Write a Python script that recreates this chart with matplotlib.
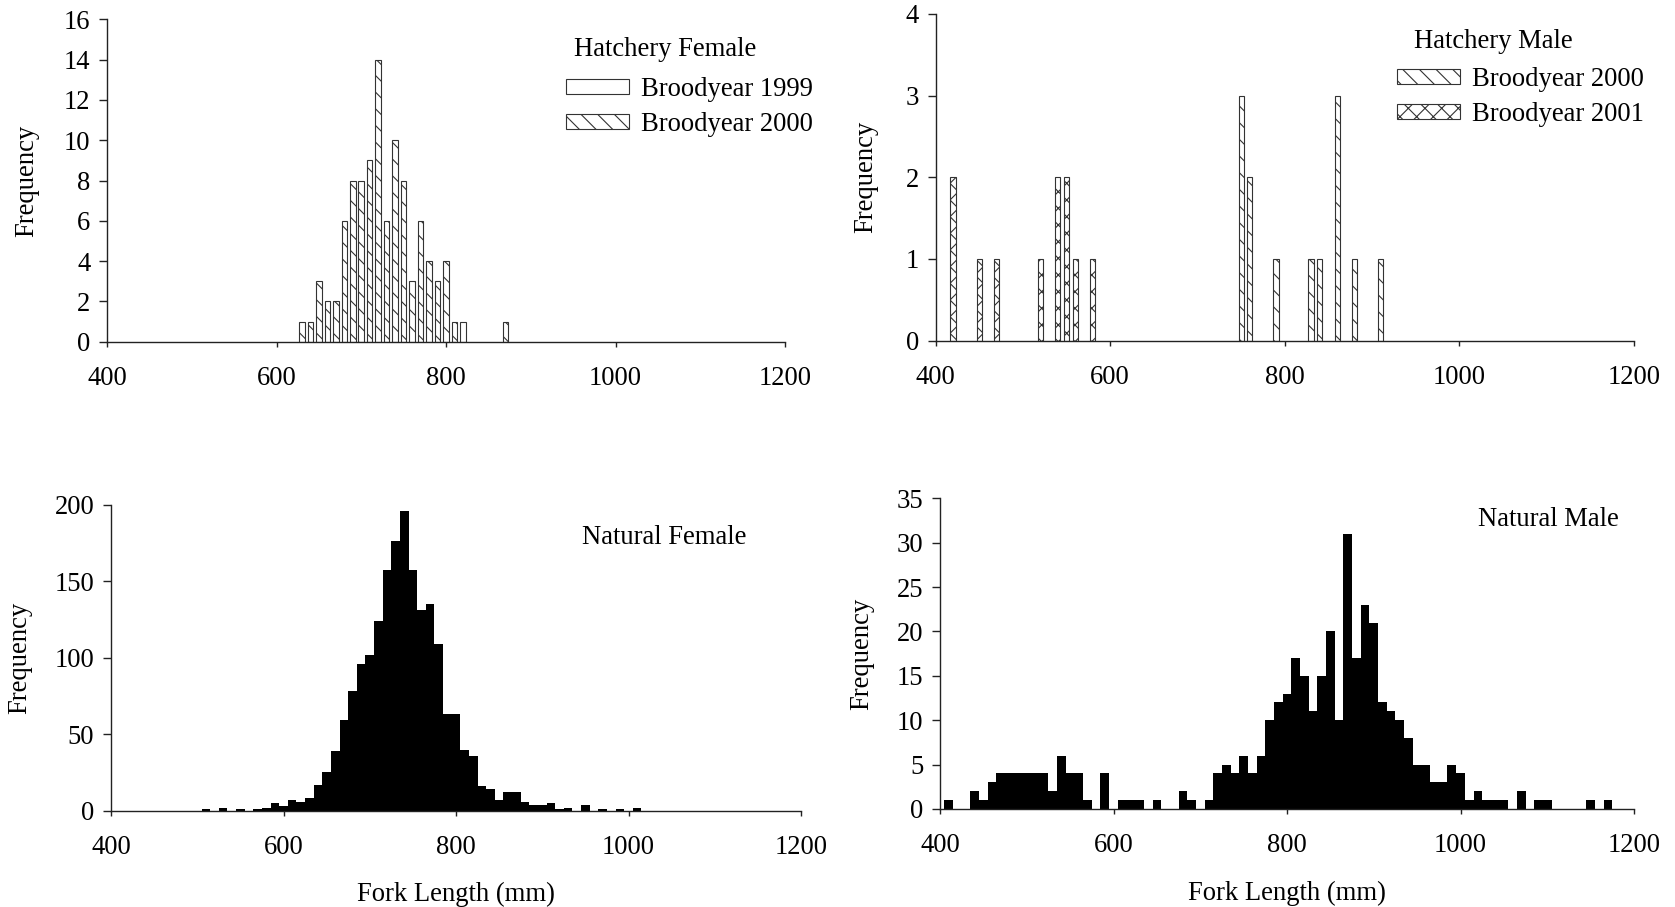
import numpy as np
import matplotlib
matplotlib.use("Agg")
import matplotlib.pyplot as plt
from matplotlib.patches import Patch

plt.rcParams['font.family'] = ['Liberation Serif', 'DejaVu Serif']
plt.rcParams['hatch.linewidth'] = 0.8

# Hatchery female, 10 mm classes
hf_1999_len = [820]
hf_1999_cnt = [1]
hf_2000_len = [630, 640, 650, 660, 670, 680, 690, 700, 710, 720, 730, 740,
               750, 760, 770, 780, 790, 800, 810, 870]
hf_2000_cnt = [1, 1, 3, 2, 2, 6, 8, 8, 9, 14, 6, 10, 8, 3, 6, 4, 3, 4, 1, 1]

# Hatchery male
hm_2000_len = [750, 760, 790, 830, 840, 860, 880, 910]
hm_2000_cnt = [3, 2, 1, 1, 1, 3, 1, 1]
hm_2001_len = [420, 450, 470, 520, 540, 550, 560, 580]
hm_2001_cnt = [2, 1, 1, 1, 2, 2, 1, 1]

# Natural female (510 .. 1010 mm)
nf_len = np.arange(510, 1020, 10)
nf_cnt = [1, 0, 2, 0, 1, 0, 1, 2, 5, 3, 7, 6, 8, 17, 25, 39, 59, 78, 96, 102,
          124, 157, 176, 196, 157, 131, 135, 109, 63, 63, 40, 36, 16, 14, 7,
          12, 12, 6, 4, 4, 5, 1, 2, 0, 4, 0, 1, 0, 1, 0, 2]

# Natural male (410 .. 1170 mm)
nm_len = np.arange(410, 1180, 10)
nm_cnt = [1, 0, 0, 2, 1, 3, 4, 4, 4, 4, 4, 4, 2, 6, 4, 4, 1, 0, 4, 0,
          1, 1, 1, 0, 1, 0, 0, 2, 1, 0, 1, 4, 5, 4, 6, 4, 6, 10, 12, 13,
          17, 15, 11, 15, 20, 10, 31, 17, 23, 21, 12, 11, 10, 8, 5, 5, 3, 3, 5, 4,
          1, 2, 1, 1, 1, 0, 2, 0, 1, 1, 0, 0, 0, 0, 1, 0, 1]

x_ticks = [400, 600, 800, 1000, 1200]
FS = 19.2
W, H = 1675, 907

fig = plt.figure(figsize=(16.75, 9.07), dpi=100)


def rect(l, r, b, t):
    return [l / W, 1 - b / H, (r - l) / W, (b - t) / H]


def style(ax, ymax, ystep):
    ax.set_xlim(400, 1200)
    ax.set_ylim(0, ymax)
    ax.set_xticks(x_ticks)
    ax.set_yticks(np.arange(0, ymax + ystep, ystep))
    for s in ['top', 'right']:
        ax.spines[s].set_visible(False)
    for s in ['left', 'bottom']:
        ax.spines[s].set_linewidth(1.0)
        ax.spines[s].set_color('#222222')
    ax.tick_params(axis='x', direction='out', length=3.5, width=1, pad=14,
                   labelsize=FS, color='#222222')
    ax.tick_params(axis='y', direction='out', length=5.5, width=1, pad=6.5,
                   labelsize=FS, color='#222222')
    ax.set_ylabel('Frequency', fontsize=FS)


ax1 = fig.add_axes(rect(107, 785, 341.7, 19.3))
ax1.bar(hf_1999_len, hf_1999_cnt, width=6.5, color='white', edgecolor='#333333', lw=0.8)
ax1.bar(hf_2000_len, hf_2000_cnt, width=6.5, color='white', edgecolor='#333333', lw=0.8,
        hatch='\\\\')
style(ax1, 16, 2)

ax2 = fig.add_axes(rect(935.6, 1634, 340.7, 13.9))
ax2.bar(hm_2000_len, hm_2000_cnt, width=6, color='white', edgecolor='#333333', lw=0.8,
        hatch='\\\\')
ax2.bar(hm_2001_len, hm_2001_cnt, width=6, color='white', edgecolor='#333333', lw=0.8,
        hatch='xx')
style(ax2, 4, 1)

ax3 = fig.add_axes(rect(111, 801, 810.7, 504.7))
ax3.bar(nf_len, nf_cnt, width=10, color='black', edgecolor='black', lw=0)
style(ax3, 200, 50)
ax3.set_xlabel('Fork Length (mm)', fontsize=FS, labelpad=16)

ax4 = fig.add_axes(rect(940, 1634, 809, 498.3))
ax4.bar(nm_len, nm_cnt, width=10, color='black', edgecolor='black', lw=0)
style(ax4, 35, 5)
ax4.set_xlabel('Fork Length (mm)', fontsize=FS, labelpad=16)

# panel titles
fig.text(665 / W, 1 - 49 / H, 'Hatchery Female', fontsize=FS, ha='center', va='center')
fig.text(1493 / W, 1 - 41 / H, 'Hatchery Male', fontsize=FS, ha='center', va='center')
fig.text(664 / W, 1 - 538 / H, 'Natural Female', fontsize=FS, ha='center', va='center')
fig.text(1548 / W, 1 - 520 / H, 'Natural Male', fontsize=FS, ha='center', va='center')

leg_kw = dict(loc='upper left', frameon=False, fontsize=FS, borderpad=0,
              borderaxespad=0, handlelength=2.35, handleheight=0.5,
              handletextpad=0.45, labelspacing=0.38, bbox_transform=fig.transFigure)
h1 = [Patch(facecolor='white', edgecolor='#333333', lw=0.8, label='Broodyear 1999'),
      Patch(facecolor='white', edgecolor='#333333', lw=0.8, hatch='\\\\', label='Broodyear 2000')]
ax1.legend(handles=h1, bbox_to_anchor=(566 / W, 1 - 77 / H), **leg_kw)
h2 = [Patch(facecolor='white', edgecolor='#333333', lw=0.8, hatch='\\\\', label='Broodyear 2000'),
      Patch(facecolor='white', edgecolor='#333333', lw=0.8, hatch='xx', label='Broodyear 2001')]
ax2.legend(handles=h2, bbox_to_anchor=(1397 / W, 1 - 67 / H), **leg_kw)

ax1.yaxis.set_label_coords(-68 / 678, 0.5)
ax2.yaxis.set_label_coords(-57 / 698, 0.5)
ax3.yaxis.set_label_coords(-79 / 690, 0.5)
ax4.yaxis.set_label_coords(-66 / 694, 0.5)

fig.savefig('out.png', dpi=100)
